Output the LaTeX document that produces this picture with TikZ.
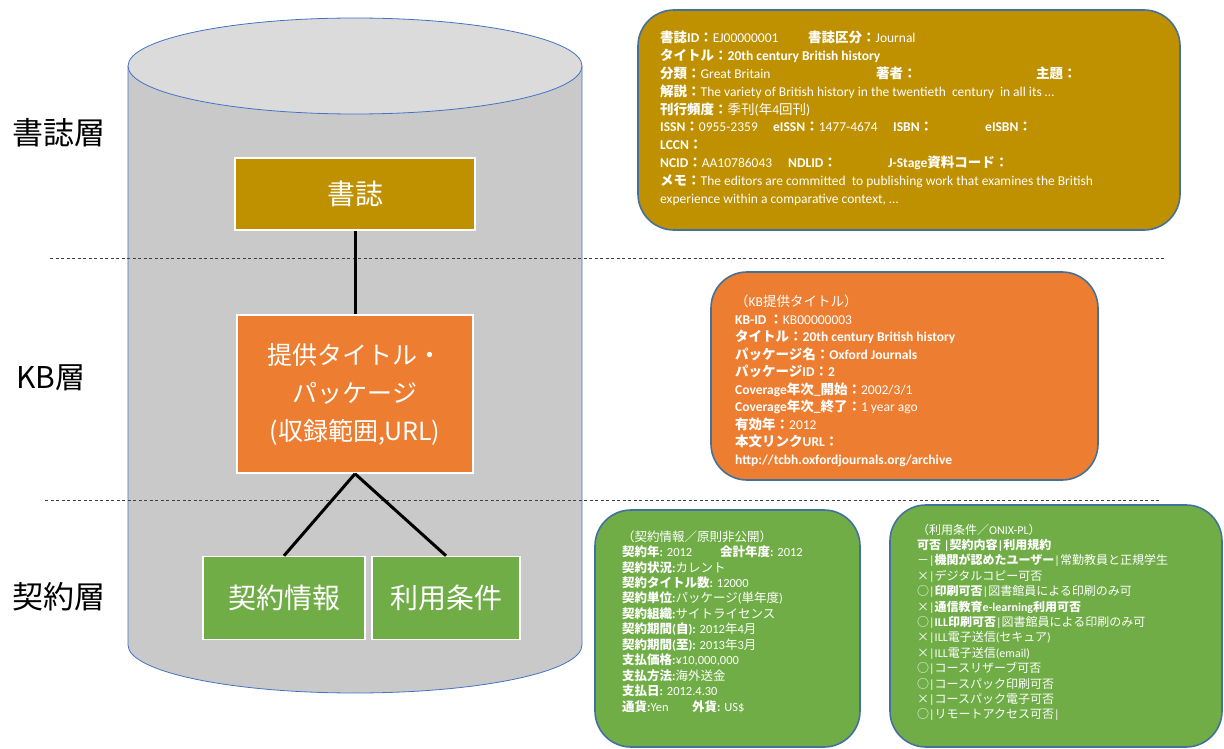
\documentclass[tikz,border=0pt]{standalone}
\usepackage{fontspec}
\setmainfont{Carlito}
\newfontfamily\jpf{Noto Sans CJK JP}
\newfontfamily\latf{Carlito}
\XeTeXinterchartokenstate=1
\newXeTeXintercharclass\cjkcl
\newcount\mycnt
\def\setcjkrange#1#2{\mycnt=#1\relax
  \loop \XeTeXcharclass\mycnt=\cjkcl \ifnum\mycnt<#2\relax \advance\mycnt by 1 \repeat}
\setcjkrange{"3000}{"30FF}
\setcjkrange{"4E00}{"9FFF}
\setcjkrange{"FF00}{"FFEF}
\XeTeXcharclass"25CB=\cjkcl
\XeTeXcharclass"00D7=\cjkcl
\XeTeXinterchartoks 0 \cjkcl = {\jpf}
\XeTeXinterchartoks 4095 \cjkcl = {\jpf}
\XeTeXinterchartoks \cjkcl 0 = {\latf}
\XeTeXinterchartoks \cjkcl 4095 = {\latf}
\definecolor{olive}{HTML}{BF9000}
\definecolor{orng}{HTML}{ED7D31}
\definecolor{grn}{HTML}{70AD47}
\definecolor{bord}{HTML}{41719C}
\definecolor{cylbody}{HTML}{C9C9C9}
\definecolor{cyltop}{HTML}{DBDBDB}
\definecolor{cyledge}{HTML}{4472C4}
\newcount\tn
\newcommand\txtline[3]{\global\advance\tn by 1 \node[txt] (t\the\tn) at (#1,#2) {#3};}
\tikzset{
  txt/.style={anchor=base west, inner sep=0pt, text=white},
  infobox/.style={draw=bord, line width=1.6pt, rounded corners=36pt},
  layerbox/.style={draw=white, line width=1.5pt, text=white, inner sep=0pt,
     font={\XeTeXinterchartokenstate=0 \jpf\fontsize{25}{38}\selectfont}, align=center},
  layerlabel/.style={inner sep=0pt, font={\XeTeXinterchartokenstate=0 \jpf\fontsize{31}{36}\selectfont}},
  conn/.style={line width=3pt, black},
  divider/.style={dashed, dash pattern=on 3pt off 2.5pt, line width=0.8pt, black!75}
}
\begin{document}
\begin{tikzpicture}[x=1pt,y=-1pt]
\useasboundingbox (0,0) rectangle (1224,749);
% cylinder
\fill[cylbody] (128,66) -- (128,645) arc (180:0:227 and 48) -- (582,66) -- cycle;
\draw[cyledge, line width=0.8pt] (128,66) -- (128,645) arc (180:0:227 and 48) -- (582,66);
\draw[cyledge, line width=0.8pt, fill=cyltop] (355,66) ellipse (227 and 48);
% dividers
\coordinate (d1a) at (50,258); \coordinate (d1b) at (1165,258);
\coordinate (d2a) at (45,500); \coordinate (d2b) at (1160,500);
\draw[divider] (d1a) -- (d1b);
\draw[divider] (d2a) -- (d2b);
% layer labels
\node[layerlabel] (L1) at (59,133) {書誌層};
\node[layerlabel, font={\XeTeXinterchartokenstate=0 \jpf\fontsize{30}{36}\selectfont}] (L2) at (51,378) {KB層};
\node[layerlabel] (L3) at (59,597) {契約層};
% inner boxes
\node[layerbox, fill=olive, minimum width=240pt, minimum height=72pt, font={\XeTeXinterchartokenstate=0 \jpf\fontsize{28}{34}\selectfont}] (shoshi) at (355,194) {書誌};
\node[layerbox, fill=orng, minimum width=236pt, minimum height=158pt] (kb) at (355,394) {提供タイトル・\\パッケージ\\(収録範囲,URL)};
\node[layerbox, fill=grn, minimum width=162pt, minimum height=83pt, font={\XeTeXinterchartokenstate=0 \jpf\fontsize{28}{32}\selectfont}] (keiyaku) at (284,598) {契約情報};
\node[layerbox, fill=grn, minimum width=148pt, minimum height=83pt, font={\XeTeXinterchartokenstate=0 \jpf\fontsize{28}{32}\selectfont}] (riyou) at (446,598) {利用条件};
\draw[conn] (shoshi.south) -- (kb.north);
\draw[conn] (kb.south) -- (keiyaku.north);
\draw[conn] (kb.south) -- (riyou.north);
% info boxes
\draw[infobox, fill=olive] (638,10) rectangle (1180,230);
\draw[infobox, fill=orng] (711,272) rectangle (1098,480);
\draw[infobox, fill=grn] (595,510) rectangle (860,747);
\draw[infobox, fill=grn] (890,505) rectangle (1222,747);
% olive text
\begin{scope}[txt/.append style={font=\fontsize{13.5}{16}\selectfont}]
\txtline{660}{43}{\textbf{書誌ID：}EJ00000001}
\txtline{808}{43}{\textbf{書誌区分：}Journal}
\txtline{660}{60.8}{\textbf{タイトル：20th century British history}}
\txtline{660}{78.6}{\textbf{分類：}Great Britain}
\txtline{876}{78.6}{\textbf{著者：}}
\txtline{1036}{78.6}{\textbf{主題：}}
\txtline{660}{96.4}{\textbf{解説：}The variety of British history in the twentieth\ \ century\ \ in all its …}
\txtline{660}{114.2}{\textbf{刊行頻度：}季刊(年4回刊)}
\txtline{660}{132}{\textbf{ISSN：}0955-2359}
\txtline{773}{132}{\textbf{eISSN：}1477-4674}
\txtline{893}{132}{\textbf{ISBN：}}
\txtline{985}{132}{\textbf{eISBN：}}
\txtline{660}{149.8}{\textbf{LCCN：}}
\txtline{660}{167.6}{\textbf{NCID：}AA10786043}
\txtline{788}{167.6}{\textbf{NDLID：}}
\txtline{888}{167.6}{\textbf{J-Stage資料コード：}}
\txtline{660}{185.4}{\textbf{メモ：}The editors are committed\ \ to publishing work that examines the British}
\txtline{660}{203.2}{experience within a comparative context, …}
\end{scope}
% orange text
\begin{scope}[txt/.append style={font=\fontsize{13.5}{15}\selectfont}]
\txtline{735}{306.5}{（KB提供タイトル）}
\txtline{735}{324}{\textbf{KB-ID ：}KB00000003}
\txtline{735}{341.5}{\textbf{タイトル：20th century British history}}
\txtline{735}{359}{\textbf{パッケージ名：Oxford Journals}}
\txtline{735}{376.5}{\textbf{パッケージID：2}}
\txtline{735}{394}{\textbf{Coverage年次\_開始：}2002/3/1}
\txtline{735}{411.5}{\textbf{Coverage年次\_終了：}1 year ago}
\txtline{735}{429}{\textbf{有効年：}2012}
\txtline{735}{446.5}{\textbf{本文リンクURL：}}
\txtline{735}{464}{\textbf{http://tcbh.oxfordjournals.org/archive}}
\end{scope}
% green 1 text
\begin{scope}[txt/.append style={font=\fontsize{12.5}{14}\selectfont}]
\txtline{622}{541}{（契約情報／原則非公開）}
\txtline{622}{556.5}{\textbf{契約年:} 2012}
\txtline{720}{556.5}{\textbf{会計年度:} 2012}
\txtline{622}{572}{\textbf{契約状況:}カレント}
\txtline{622}{587.4}{\textbf{契約タイトル数:} 12000}
\txtline{622}{602.8}{\textbf{契約単位:}パッケージ(単年度)}
\txtline{622}{618.2}{\textbf{契約組織:}サイトライセンス}
\txtline{622}{633.7}{\textbf{契約期間(自):} 2012年4月}
\txtline{622}{649.2}{\textbf{契約期間(至):} 2013年3月}
\txtline{622}{664.6}{\textbf{支払価格:}¥10,000,000}
\txtline{622}{680}{\textbf{支払方法:}海外送金}
\txtline{622}{695.5}{\textbf{支払日:} 2012.4.30}
\txtline{622}{711}{\textbf{通貨:}Yen}
\txtline{692}{711}{\textbf{外貨:} US\$}
\end{scope}
% green 2 text
\begin{scope}[txt/.append style={font=\fontsize{12}{14}\selectfont}]
\txtline{917}{534}{（利用条件／ONIX-PL）}
\txtline{917}{549.4}{\textbf{可否 |契約内容|利用規約}}
\txtline{917}{564.8}{－|\textbf{機関が認めたユーザー}|常勤教員と正規学生}
\txtline{917}{580.2}{×|デジタルコピー可否}
\txtline{917}{595.6}{○|\textbf{印刷可否}|図書館員による印刷のみ可}
\txtline{917}{611}{×|\textbf{通信教育e-learning利用可否}}
\txtline{917}{626.4}{○|\textbf{ILL印刷可否}|図書館員による印刷のみ可}
\txtline{917}{641.8}{×|ILL電子送信(セキュア)}
\txtline{917}{657.2}{×|ILL電子送信(email)}
\txtline{917}{672.6}{○|コースリザーブ可否}
\txtline{917}{688}{○|コースパック印刷可否}
\txtline{917}{703.4}{×|コースパック電子可否}
\txtline{917}{718.8}{○|リモートアクセス可否|}
\end{scope}
\end{tikzpicture}
\end{document}
